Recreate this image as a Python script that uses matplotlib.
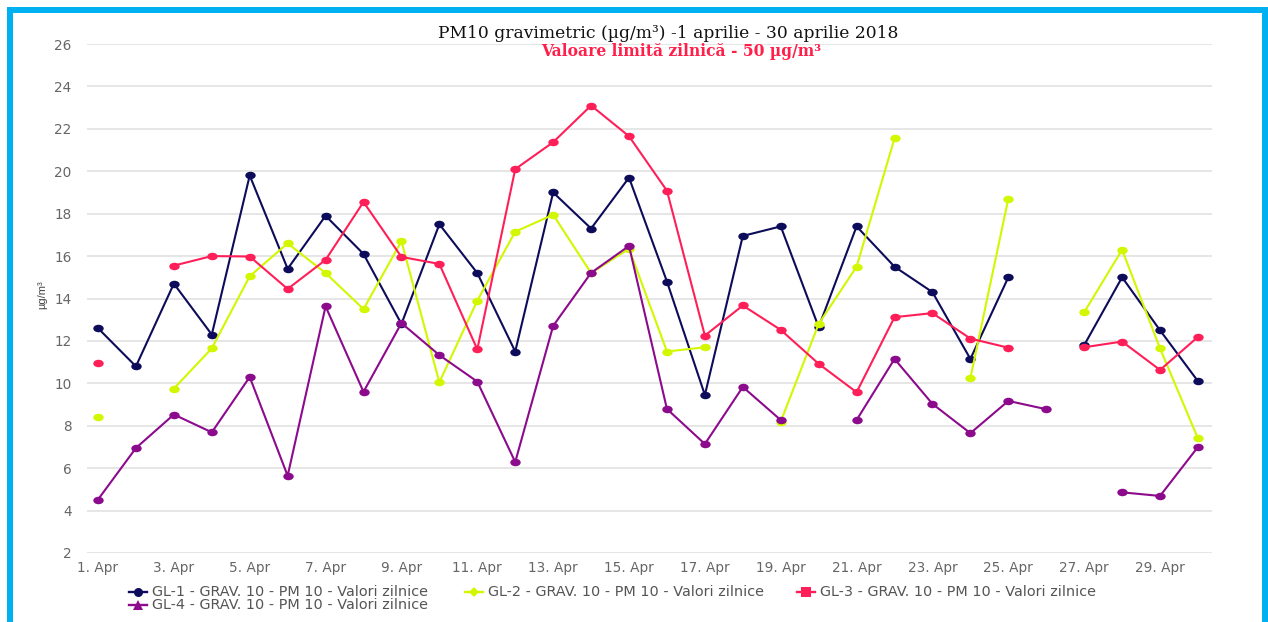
import numpy as np
import matplotlib
matplotlib.use("Agg")
import matplotlib.pyplot as plt
from matplotlib.lines import Line2D
from matplotlib.patches import Rectangle
from matplotlib.path import Path

nan = np.nan
days = list(range(1, 31))
tick_days = list(range(1, 30, 2))
tick_labels = [f"{d}. Apr" for d in tick_days]

gl1 = [12.6, 10.8, 14.7, 12.3, 19.8, 15.4, 17.9, 16.1, 12.8, 17.5,
       15.2, 11.5, 19.0, 17.3, 19.7, 14.8, 9.45, 16.95, 17.4, 12.65,
       17.4, 15.5, 14.3, 11.15, 15.0, nan, 11.8, 15.0, 12.5, 10.1]
gl2 = [8.4, nan, 9.75, 11.65, 15.05, 16.6, 15.2, 13.5, 16.7, 10.05,
       13.9, 17.15, 17.95, 15.2, 16.35, 11.5, 11.7, nan, 8.2, 12.8,
       15.5, 21.55, nan, 10.25, 18.7, nan, 13.35, 16.3, 11.65, 7.4]
gl3 = [10.95, nan, 15.55, 16.0, 15.98, 14.45, 15.82, 18.55, 15.96, 15.63,
       11.6, 20.1, 21.37, 23.1, 21.65, 19.08, 12.25, 13.67, 12.52, 10.92,
       9.58, 13.12, 13.31, 12.11, 11.68, nan, 11.7, 11.97, 10.63, 12.19]
gl4 = [4.52, 6.95, 8.53, 7.69, 10.3, 5.64, 13.63, 9.6, 12.84, 11.33,
       10.08, 6.29, 12.71, 15.21, 16.48, 8.79, 7.14, 9.83, 8.27, nan,
       8.27, 11.15, 9.03, 7.65, 9.17, 8.78, nan, 4.86, 4.69, 7.0]

names = ["GL-1 - GRAV. 10 - PM 10 - Valori zilnice",
         "GL-2 - GRAV. 10 - PM 10 - Valori zilnice",
         "GL-3 - GRAV. 10 - PM 10 - Valori zilnice",
         "GL-4 - GRAV. 10 - PM 10 - Valori zilnice"]
series = [gl1, gl2, gl3, gl4]
colors = ["#0c0c5a", "#d2f700", "#ff1f58", "#8c0a8c"]
legend_markers = ["o", "D", "s", "^"]

W, H = 1268, 622
fig = plt.figure(figsize=(W / 100, H / 100), dpi=100)
fig.patch.set_facecolor("white")

ax = fig.add_axes([87 / W, (H - 553) / H, (1212 - 87) / W, (553 - 44) / H])
ax.set_facecolor("white")
for s in ax.spines.values():
    s.set_visible(False)

ax.set_ylim(2, 26)
ax.set_yticks(range(2, 27, 2))
ax.set_xlim(0.71, 30.37)
ax.set_xticks(tick_days)
ax.set_xticklabels(tick_labels)
ax.grid(axis="y", color="#e2e2e2", linewidth=1.2)
ax.set_axisbelow(True)
ax.tick_params(axis="both", length=0, colors="#666666", labelsize=9.8)
ax.tick_params(axis="y", pad=11)
ax.tick_params(axis="x", pad=6)
for lbl in ax.get_xticklabels() + ax.get_yticklabels():
    lbl.set_family("DejaVu Sans")
    lbl.set_color("#666666")

# ellipse marker (points look horizontally stretched in the reference)
uc = Path.unit_circle()
ellipse = Path(uc.vertices * np.array([1.0, 0.72]), uc.codes)

for vals, c in zip(series, colors):
    ax.plot(days, vals, color=c, linewidth=1.5, marker=ellipse, markersize=7.5,
            markeredgewidth=0, zorder=3)

fig.text(42 / W, 1 - 295 / H, "µg/m³", rotation=90, ha="center", va="center",
         fontsize=8, color="#444444", family="Liberation Sans")

fig.text(668 / W, 1 - 33 / H, "PM10 gravimetric (µg/m³) -1 aprilie - 30 aprilie 2018",
         ha="center", va="center", fontsize=12.3, family="DejaVu Serif",
         color="#111111",
         bbox=dict(facecolor="white", edgecolor="none", pad=2), zorder=5)
fig.text(681 / W, 1 - 51 / H, "Valoare limită zilnică - 50 µg/m³",
         ha="center", va="center", fontsize=11.2, family="DejaVu Serif",
         color="#ff1f4b", fontweight="bold", zorder=6)

# manual legend
legend_pos = [(152, 592), (488, 592), (820, 592), (152, 605)]
for (tx, ty), name, c, m in zip(legend_pos, names, colors, legend_markers):
    yf = 1 - ty / H
    fig.add_artist(Line2D([(tx - 23) / W, (tx - 5) / W], [yf, yf], color=c,
                          linewidth=1.7, transform=fig.transFigure))
    fig.add_artist(Line2D([(tx - 14) / W], [yf], color=c, marker=m,
                          markersize=6.5 if m != "D" else 5.5, markeredgewidth=0,
                          linestyle="none", transform=fig.transFigure))
    fig.text(tx / W, yf, name, ha="left", va="center", fontsize=10.4,
             family="DejaVu Sans", color="#555555")

border = "#00b0f0"
fig.patches.append(Rectangle((7 / W, 0), 6 / W, 1 - 7 / H, transform=fig.transFigure,
                             facecolor=border, edgecolor="none"))
fig.patches.append(Rectangle((7 / W, 1 - 13 / H), (1268 - 7) / W, 6 / H,
                             transform=fig.transFigure, facecolor=border, edgecolor="none"))
fig.patches.append(Rectangle((1262 / W, 0), 6 / W, 1 - 7 / H, transform=fig.transFigure,
                             facecolor=border, edgecolor="none"))

fig.savefig("out.png", dpi=100, facecolor="white")
